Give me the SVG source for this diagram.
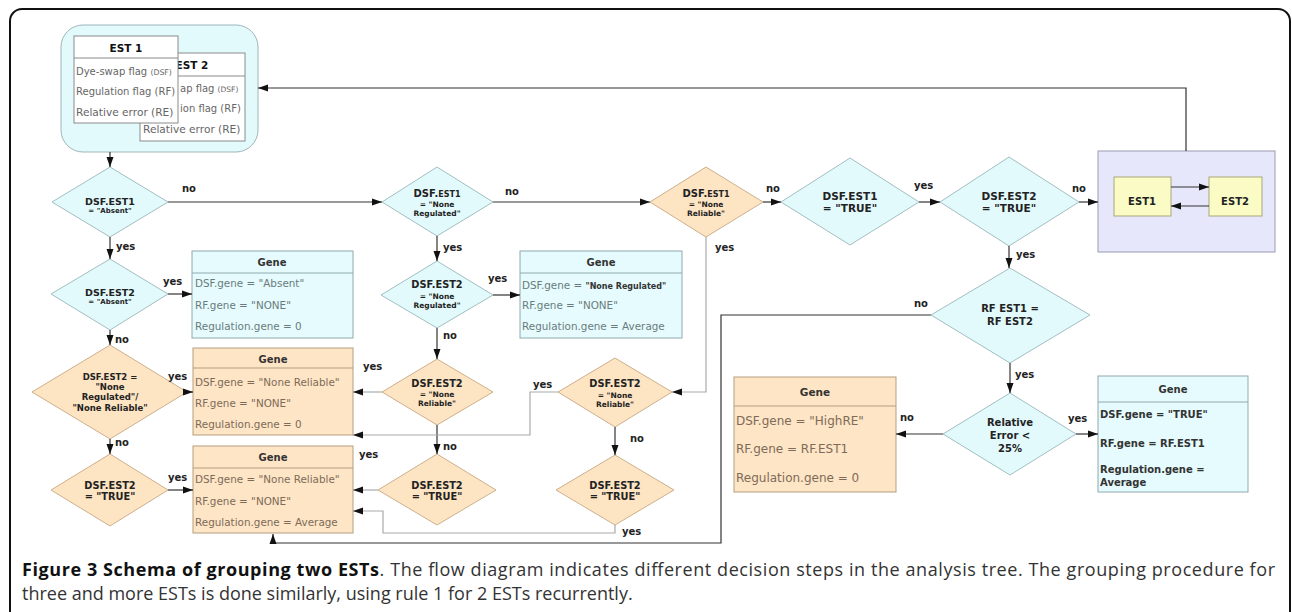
<svg xmlns="http://www.w3.org/2000/svg" width="1292" height="612" viewBox="0 0 1292 612">
<style>
text { font-family: 'DejaVu Sans', Verdana, sans-serif; }
.cy { fill:#e2fafc; stroke:#a3bec2; stroke-width:1; }
.or { fill:#fde4c3; stroke:#cdb08c; stroke-width:1; }
.gc { fill:#e5fbfd; stroke:#8faaae; stroke-width:1; }
.go { fill:#fde5c6; stroke:#b59d80; stroke-width:1; }
.gcl { stroke:#8faaae; }
.gol { stroke:#b59d80; }
.dt { font-weight:bold; fill:#222; text-anchor:middle; }
.lbl { font-size:10px; font-weight:bold; fill:#222; }
.gh { font-size:10px; font-weight:bold; fill:#333; text-anchor:middle; }
.gtc { font-size:10.4px; fill:#6b7b7c; }
.gto { font-size:10.4px; fill:#7d6b58; }
.gto12 { font-size:12px; fill:#7d6b58; }
.et { font-size:10px; fill:#666; }
.etl { font-size:10.6px; fill:#666; }
.c { fill:none; stroke:#333; stroke-width:1.2; }
.cg { fill:none; stroke:#aaaaaa; stroke-width:1.2; }
.arr { marker-end:url(#ah); }
.cap { font-family:'Open Sans', 'Liberation Sans', sans-serif; font-size:18px; fill:#333; }
</style>
<defs>
<marker id="ah" viewBox="0 0 10 10" refX="10" refY="5" markerWidth="10" markerHeight="10" markerUnits="userSpaceOnUse" orient="auto"><path d="M0,1.5 L10,5 L0,8.5 z" fill="#111"/></marker>
</defs>
<rect width="1292" height="612" fill="#fff"/>
<path d="M10,612 V21 A12,12 0 0 1 22,9 H1278 A12,12 0 0 1 1290,21 V612" fill="none" stroke="#111" stroke-width="2"/>

<g id="est-input">
<rect x="61" y="25" width="197" height="127" rx="22" fill="#e3fafc" stroke="#9fb5b8"/>
<rect x="140" y="53" width="105" height="88" fill="#fff" stroke="#8a8a8a"/>
<line x1="140" y1="76" x2="245" y2="76" stroke="#8a8a8a"/>
<text x="192" y="69" font-size="10.5" font-weight="bold" fill="#111" text-anchor="middle">EST 2</text>
<text class="et" x="180" y="92">ap flag <tspan style="font-size:7.5px">(DSF)</tspan></text>
<text class="et" x="180" y="112">ion flag (RF)</text>
<text class="etl" x="143" y="133">Relative error (RE)</text>
<rect x="74" y="36" width="104" height="87" fill="#fff" stroke="#8a8a8a"/>
<line x1="74" y1="58" x2="178" y2="58" stroke="#8a8a8a"/>
<text x="126" y="52" font-size="10.5" font-weight="bold" fill="#111" text-anchor="middle">EST 1</text>
<text class="et" x="76" y="75">Dye-swap flag <tspan style="font-size:7.8px">(DSF)</tspan></text>
<text class="et" x="76" y="95">Regulation flag (RF)</text>
<text class="etl" x="76" y="116">Relative error (RE)</text>
</g>

<g id="d-est1-absent">
<polygon class="cy" points="110,167 168,202 110,237 52,202"/>
<text class="dt" x="110" y="205" font-size="9.5">DSF.EST1</text>
<text class="dt" x="110" y="213" font-size="7">= "Absent"</text>
</g>
<g id="d-est1-noneregulated">
<polygon class="cy" points="437,167 493,202 437,236 382,202"/>
<text class="dt" x="437" y="197" font-size="10">DSF.<tspan font-size="8">EST1</tspan></text>
<text class="dt" x="437" y="207" font-size="7.5">= "None</text>
<text class="dt" x="437" y="216" font-size="7.5">Regulated"</text>
</g>
<g id="d-est1-nonereliable">
<polygon class="or" points="706,167 763,202 706,237 650,202"/>
<text class="dt" x="706" y="197" font-size="10">DSF.<tspan font-size="8">EST1</tspan></text>
<text class="dt" x="706" y="207" font-size="7.5">= "None</text>
<text class="dt" x="706" y="216" font-size="7.5">Reliable"</text>
</g>
<g id="d-est1-true">
<polygon class="cy" points="850,158 919,202 850,245 781,202"/>
<text class="dt" x="850" y="200" font-size="10.5">DSF.EST1</text>
<text class="dt" x="850" y="212" font-size="10.5">= "TRUE"</text>
</g>
<g id="d-est2-true-top">
<polygon class="cy" points="1009,157 1079,202 1009,246 940,202"/>
<text class="dt" x="1009" y="200" font-size="10.5">DSF.EST2</text>
<text class="dt" x="1009" y="212" font-size="10.5">= "TRUE"</text>
</g>
<g id="swap">
<rect x="1098" y="151" width="177" height="101" fill="#e7e7fb" stroke="#9999b3"/>
<rect x="1114" y="177" width="57" height="39" fill="#fbfbc5" stroke="#a7a77a"/>
<text class="dt" x="1142" y="205" font-size="10">EST1</text>
<rect x="1209" y="177" width="53" height="39" fill="#fbfbc5" stroke="#a7a77a"/>
<text class="dt" x="1235" y="205" font-size="10">EST2</text>
</g>

<g id="d-est2-absent">
<polygon class="cy" points="110,259 168,294 110,330 51,294"/>
<text class="dt" x="110" y="296" font-size="9.5">DSF.EST2</text>
<text class="dt" x="110" y="304" font-size="7">= "Absent"</text>
</g>
<g id="gene-absent">
<rect class="gc" x="192" y="251" width="161" height="87"/>
<line class="gcl" x1="192" y1="273" x2="353" y2="273"/>
<text class="gh" x="272" y="266">Gene</text>
<text class="gtc" x="195" y="287">DSF.gene = "Absent"</text>
<text class="gtc" x="195" y="309">RF.gene = "NONE"</text>
<text class="gtc" x="195" y="330">Regulation.gene = 0</text>
</g>
<g id="d-est2-nr-nrel">
<polygon class="or" points="110,345 187,392 110,439 32,392"/>
<text class="dt" x="110" y="380" font-size="8.5">DSF.EST2 =</text>
<text class="dt" x="110" y="390" font-size="8.5">"None</text>
<text class="dt" x="110" y="400" font-size="8.5">Regulated"/</text>
<text class="dt" x="110" y="411" font-size="8.5">"None Reliable"</text>
</g>
<g id="gene-nonereliable-1">
<rect class="go" x="193" y="348" width="160" height="87"/>
<line class="gol" x1="193" y1="368" x2="353" y2="368"/>
<text class="gh" x="273" y="363">Gene</text>
<text class="gto" x="195" y="386">DSF.gene = "None Reliable"</text>
<text class="gto" x="195" y="407">RF.gene = "NONE"</text>
<text class="gto" x="195" y="428">Regulation.gene = 0</text>
</g>
<g id="d-est2-true-1">
<polygon class="or" points="110,454 168,490 110,526 51,490"/>
<text class="dt" x="110" y="489" font-size="9.8">DSF.EST2</text>
<text class="dt" x="110" y="500" font-size="9.8">= "TRUE"</text>
</g>
<g id="gene-nonereliable-2">
<rect class="go" x="193" y="446" width="160" height="87"/>
<line class="gol" x1="193" y1="468" x2="353" y2="468"/>
<text class="gh" x="273" y="461">Gene</text>
<text class="gto" x="195" y="483">DSF.gene = "None Reliable"</text>
<text class="gto" x="195" y="505">RF.gene = "NONE"</text>
<text class="gto" x="195" y="526">Regulation.gene = Average</text>
</g>

<g id="d-est2-noneregulated">
<polygon class="cy" points="437,261 493,295 437,328 381,295"/>
<text class="dt" x="437" y="288" font-size="9.8">DSF.EST2</text>
<text class="dt" x="437" y="299" font-size="7.5">= "None</text>
<text class="dt" x="437" y="308" font-size="7.5">Regulated"</text>
</g>
<g id="gene-noneregulated">
<rect class="gc" x="520" y="251" width="162" height="87"/>
<line class="gcl" x1="520" y1="273" x2="682" y2="273"/>
<text class="gh" x="601" y="266">Gene</text>
<text class="gtc" x="522" y="289">DSF.gene = <tspan style="font-size:8px;font-weight:bold;fill:#333">"None Regulated"</tspan></text>
<text class="gtc" x="522" y="309">RF.gene = "NONE"</text>
<text class="gtc" x="522" y="330">Regulation.gene = Average</text>
</g>
<g id="d-est2-nonereliable-mid">
<polygon class="or" points="437,359 493,392 437,425 382,392"/>
<text class="dt" x="437" y="387" font-size="9.8">DSF.EST2</text>
<text class="dt" x="437" y="397" font-size="7.5">= "None</text>
<text class="dt" x="437" y="406" font-size="7.5">Reliable"</text>
</g>
<g id="d-est2-true-mid">
<polygon class="or" points="437,454 496,490 437,525 378,490"/>
<text class="dt" x="437" y="489" font-size="9.8">DSF.EST2</text>
<text class="dt" x="437" y="500" font-size="9.8">= "TRUE"</text>
</g>
<g id="d-est2-nonereliable-right">
<polygon class="or" points="615,358 672,392 615,427 558,392"/>
<text class="dt" x="615" y="387" font-size="9.8">DSF.EST2</text>
<text class="dt" x="615" y="398" font-size="7.5">= "None</text>
<text class="dt" x="615" y="407" font-size="7.5">Reliable"</text>
</g>
<g id="d-est2-true-right">
<polygon class="or" points="615,455 674,490 615,525 556,490"/>
<text class="dt" x="615" y="489" font-size="9.8">DSF.EST2</text>
<text class="dt" x="615" y="500" font-size="9.8">= "TRUE"</text>
</g>

<g id="d-rf">
<polygon class="cy" points="1010,268 1090,315 1010,363 931,315"/>
<text class="dt" x="1010" y="312" font-size="10">RF EST1 =</text>
<text class="dt" x="1010" y="325" font-size="10">RF EST2</text>
</g>
<g id="d-re">
<polygon class="cy" points="1010,393 1076,434 1010,475 943,434"/>
<text class="dt" x="1010" y="426" font-size="10">Relative</text>
<text class="dt" x="1010" y="439" font-size="10">Error &lt;</text>
<text class="dt" x="1010" y="452" font-size="10">25%</text>
</g>
<g id="gene-highre">
<rect class="go" x="734" y="377" width="162" height="115"/>
<line class="gol" x1="734" y1="406" x2="896" y2="406"/>
<text class="gh" x="815" y="396" style="font-size:10.5px">Gene</text>
<text class="gto12" x="736" y="425">DSF.gene = "HighRE"</text>
<text class="gto12" x="736" y="453">RF.gene = RF.EST1</text>
<text class="gto12" x="736" y="482">Regulation.gene = 0</text>
</g>
<g id="gene-true">
<rect class="gc" x="1098" y="376" width="150" height="116"/>
<line class="gcl" x1="1098" y1="402" x2="1248" y2="402"/>
<text class="gh" x="1173" y="393">Gene</text>
<text x="1100" y="418" font-size="10" font-weight="bold" fill="#333">DSF.gene = "TRUE"</text>
<text x="1100" y="447" font-size="10" font-weight="bold" fill="#333">RF.gene = RF.EST1</text>
<text x="1100" y="473" font-size="10" font-weight="bold" fill="#333">Regulation.gene =</text>
<text x="1100" y="486" font-size="10" font-weight="bold" fill="#333">Average</text>
</g>

<g id="connectors">
<path class="c arr" d="M110,152 V167"/>
<path class="c arr" d="M168,202 H382"/>
<path class="c arr" d="M493,202 H650"/>
<path class="c arr" d="M763,202 H781"/>
<path class="c arr" d="M919,202 H940"/>
<path class="c arr" d="M1079,202 H1098"/>
<path class="c arr" d="M1186,151 V88 H258"/>
<path class="c arr" d="M1171,187 H1209"/>
<path class="c arr" d="M1209,206 H1171"/>
<path class="c arr" d="M110,237 V259"/>
<path class="c arr" d="M168,294 H192"/>
<path class="c arr" d="M110,330 V345"/>
<path class="c arr" d="M187,392 H193"/>
<path class="c arr" d="M110,439 V454"/>
<path class="c arr" d="M168,490 H193"/>
<path class="c arr" d="M437,236 V261"/>
<path class="c arr" d="M493,295 H520"/>
<path class="c arr" d="M437,328 V359"/>
<path class="cg arr" d="M382,392 H353"/>
<path class="c arr" d="M437,425 V454"/>
<path class="cg arr" d="M378,490 H353"/>
<path class="cg arr" d="M706,237 V392 H672"/>
<path class="cg arr" d="M558,392 H530 V435 H353"/>
<path class="c arr" d="M615,427 V455"/>
<path class="cg arr" d="M615,525 V533 H383 V511 H353"/>
<path class="c arr" d="M1009,246 V268"/>
<path class="c arr" d="M931,315 H721 V543 H273 V534"/>
<path class="c arr" d="M1010,363 V393"/>
<path class="c arr" d="M943,434 H896"/>
<path class="c arr" d="M1076,434 H1098"/>
<text class="lbl" x="182" y="192">no</text>
<text class="lbl" x="505" y="195">no</text>
<text class="lbl" x="766" y="192">no</text>
<text class="lbl" x="914" y="189">yes</text>
<text class="lbl" x="1072" y="192">no</text>
<text class="lbl" x="116" y="250">yes</text>
<text class="lbl" x="163" y="285">yes</text>
<text class="lbl" x="115" y="343">no</text>
<text class="lbl" x="168" y="380">yes</text>
<text class="lbl" x="115" y="446">no</text>
<text class="lbl" x="168" y="481">yes</text>
<text class="lbl" x="443" y="251">yes</text>
<text class="lbl" x="488" y="282">yes</text>
<text class="lbl" x="443" y="339">no</text>
<text class="lbl" x="363" y="370">yes</text>
<text class="lbl" x="443" y="450">no</text>
<text class="lbl" x="359" y="458">yes</text>
<text class="lbl" x="715" y="251">yes</text>
<text class="lbl" x="533" y="388">yes</text>
<text class="lbl" x="630" y="442">no</text>
<text class="lbl" x="622" y="535">yes</text>
<text class="lbl" x="1016" y="258">yes</text>
<text class="lbl" x="914" y="307">no</text>
<text class="lbl" x="1015" y="378">yes</text>
<text class="lbl" x="900" y="421">no</text>
<text class="lbl" x="1068" y="422">yes</text>
</g>

<g id="caption">
<text class="cap" x="22" y="576" textLength="1253" lengthAdjust="spacing"><tspan font-weight="bold" fill="#111">Figure 3 Schema of grouping two ESTs</tspan>. The flow diagram indicates different decision steps in the analysis tree. The grouping procedure for</text>
<text class="cap" x="22" y="600">three and more ESTs is done similarly, using rule 1 for 2 ESTs recurrently.</text>
</g>
</svg>
